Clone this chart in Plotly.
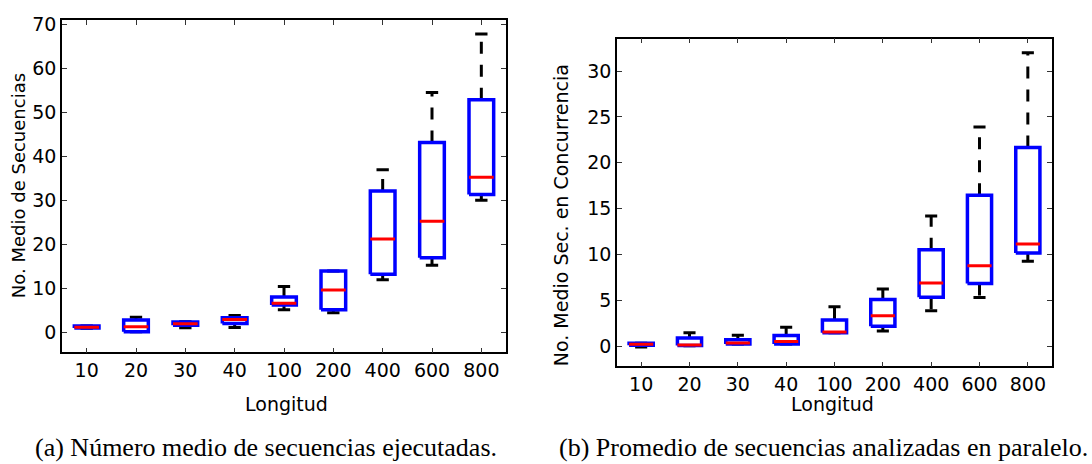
import plotly.graph_objects as go

# Lengths of the sequences (category labels)
longitudes = ["10", "20", "30", "40", "100", "200", "400", "600", "800"]

# (a) Average number of executed sequences: box-plot statistics
a_lower = [1.0, 0.2, 1.1, 1.2, 5.2, 4.5, 12.0, 15.3, 30.1]
a_q1 = [1.05, 0.2, 1.7, 2.1, 6.3, 5.2, 13.3, 17.05, 31.4]
a_median = [1.25, 1.35, 2.0, 3.0, 6.7, 9.7, 21.3, 25.3, 35.3]
a_q3 = [1.5, 2.9, 2.4, 3.4, 8.1, 14.0, 32.2, 43.2, 52.95]
a_upper = [1.5, 3.5, 2.5, 3.9, 10.5, 14.0, 37.0, 54.6, 67.9]

# (b) Average number of sequences analysed concurrently
b_lower = [-0.1, 0.05, 0.24, 0.24, 1.45, 1.65, 3.87, 5.3, 9.25]
b_q1 = [0.1, 0.06, 0.24, 0.24, 1.45, 2.17, 5.32, 6.83, 10.16]
b_median = [0.2, 0.12, 0.35, 0.5, 1.55, 3.3, 6.88, 8.78, 11.15]
b_q3 = [0.3, 0.88, 0.7, 1.17, 2.85, 5.08, 10.5, 16.47, 21.67]
b_upper = [0.3, 1.47, 1.18, 2.05, 4.3, 6.24, 14.2, 23.9, 32.0]

BOX_HW = 0.25   # half width of each box (category units)
CAP_HW = 0.125  # half width of whisker caps

fig = go.Figure()


def add_boxplot(lower, q1, med, q3, upper, xa, ya):
    pos = list(range(1, len(lower) + 1))
    wx, wy, cx, cy, bx, by, mx, my = [], [], [], [], [], [], [], []
    for p, lo, a, m, b, hi in zip(pos, lower, q1, med, q3, upper):
        # dashed whiskers start at the box edge
        if hi > b:
            wx += [p, p, None]
            wy += [b, hi, None]
        if lo < a:
            wx += [p, p, None]
            wy += [a, lo, None]
        # caps
        cx += [p - CAP_HW, p + CAP_HW, None, p - CAP_HW, p + CAP_HW, None]
        cy += [hi, hi, None, lo, lo, None]
        # box outline
        bx += [p - BOX_HW, p + BOX_HW, p + BOX_HW, p - BOX_HW, p - BOX_HW, None]
        by += [a, a, b, b, a, None]
        # median
        mx += [p - BOX_HW, p + BOX_HW, None]
        my += [m, m, None]
    common = dict(mode="lines", xaxis=xa, yaxis=ya, showlegend=False,
                  hoverinfo="skip")
    fig.add_trace(go.Scatter(x=wx, y=wy, line=dict(color="black", width=3,
                                                   dash="12px,11px"), **common))
    fig.add_trace(go.Scatter(x=cx, y=cy, line=dict(color="black", width=3), **common))
    fig.add_trace(go.Scatter(x=bx, y=by, line=dict(color="#0000ff", width=3.5), **common))
    fig.add_trace(go.Scatter(x=mx, y=my, line=dict(color="#ff0000", width=3), **common))


add_boxplot(a_lower, a_q1, a_median, a_q3, a_upper, "x", "y")
add_boxplot(b_lower, b_q1, b_median, b_q3, b_upper, "x2", "y2")

W, H = 1092, 464
tick_font = dict(family="DejaVu Sans", size=19, color="black")
axis_common = dict(showline=True, linecolor="black", linewidth=1.5, mirror="ticks",
                   ticks="inside", ticklen=5, tickwidth=1, tickcolor="#333333",
                   showgrid=False, zeroline=False, tickfont=tick_font)
xaxis_common = dict(axis_common, tickvals=list(range(1, 10)), ticktext=longitudes,
                    range=[0.5, 9.5])

fig.update_layout(
    width=W, height=H,
    margin=dict(l=0, r=0, t=0, b=0),
    paper_bgcolor="white", plot_bgcolor="white",
    xaxis=dict(xaxis_common, domain=[62 / W, 506 / W], anchor="y"),
    yaxis=dict(axis_common, domain=[(H - 351) / H, (H - 14) / H], anchor="x",
               range=[-4.5, 71.1], tickvals=list(range(0, 71, 10))),
    xaxis2=dict(xaxis_common, domain=[617 / W, 1052 / W], anchor="y2"),
    yaxis2=dict(axis_common, domain=[(H - 365) / H, (H - 33) / H], anchor="x2",
                range=[-2.2, 33.55], tickvals=list(range(0, 31, 5))),
)

label_font = dict(family="DejaVu Sans", size=19, color="black")
ylabel_font = dict(family="DejaVu Sans", size=18, color="black")
caption_font = dict(family="Liberation Serif", size=26, color="black")
annotations = [
    dict(text="Longitud", x=286 / W, y=(H - 403) / H, font=label_font),
    dict(text="No. Medio de Secuencias", x=18 / W, y=(H - 182.5) / H,
         textangle=-90, font=ylabel_font),
    dict(text="Longitud", x=832.5 / W, y=(H - 403) / H, font=label_font),
    dict(text="No. Medio Sec. en Concurrencia", x=561 / W, y=(H - 212) / H,
         textangle=-90, font=label_font),
    dict(text="(a) Número medio de secuencias ejecutadas.", x=266 / W,
         y=(H - 447) / H, font=caption_font),
    dict(text="(b) Promedio de secuencias analizadas en paralelo.", x=823 / W,
         y=(H - 447) / H, font=caption_font),
]
for a in annotations:
    a.update(xref="paper", yref="paper", showarrow=False,
             xanchor="center", yanchor="middle")
fig.update_layout(annotations=annotations)

fig.write_html("out.html")
